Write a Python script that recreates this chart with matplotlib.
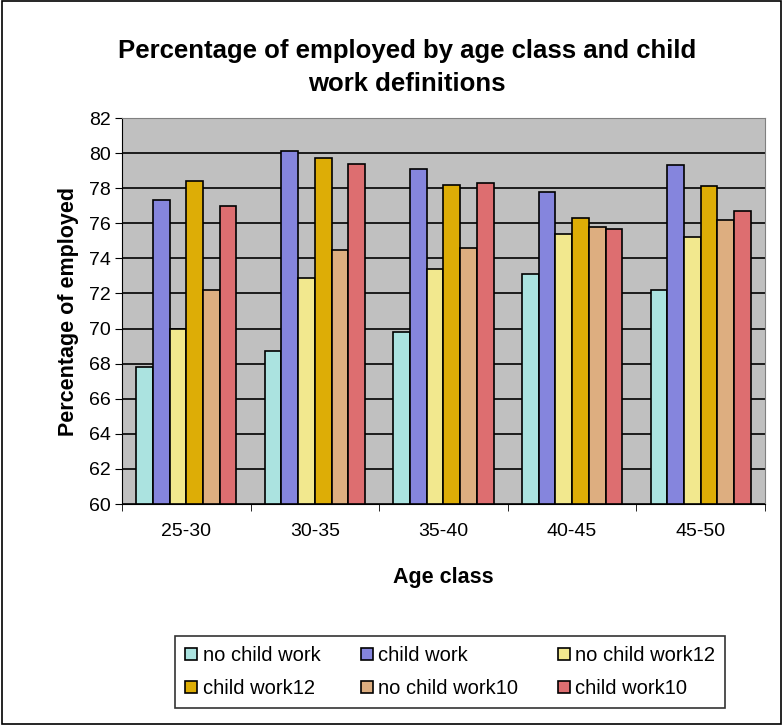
import numpy as np
import matplotlib.pyplot as plt
from matplotlib.patches import Rectangle

plt.rcParams['font.family'] = ['Liberation Sans', 'DejaVu Sans']

# data
age_classes = ['25-30', '30-35', '35-40', '40-45', '45-50']
series_names = ['no child work', 'child work', 'no child work12',
                'child work12', 'no child work10', 'child work10']
no_child_work = [67.8, 68.7, 69.8, 73.1, 72.2]
child_work = [77.3, 80.1, 79.1, 77.8, 79.3]
no_child_work12 = [70.0, 72.9, 73.4, 75.4, 75.2]
child_work12 = [78.4, 79.7, 78.2, 76.3, 78.1]
no_child_work10 = [72.2, 74.5, 74.6, 75.8, 76.2]
child_work10 = [77.0, 79.4, 78.3, 75.7, 76.7]
series = [no_child_work, child_work, no_child_work12,
          child_work12, no_child_work10, child_work10]
colors = ['#ABE3E0', '#8585DD', '#F2E88E', '#DDAD06', '#DDAE80', '#DD6E70']

fig = plt.figure(figsize=(7.83, 7.25), dpi=100)
ax = fig.add_axes([0.1558, 0.3048, 0.8212, 0.5324])
ax.set_facecolor('#C0C0C0')

x = np.arange(len(age_classes))
w = 0.13
bars = []
for i, (vals, c) in enumerate(zip(series, colors)):
    b = ax.bar(x + (i - 2.5) * w, np.array(vals) - 60, bottom=60, width=w,
               color=c, edgecolor='black', linewidth=1.2, zorder=3)
    bars.append(b)

ax.set_ylim(60, 82)
ax.set_xlim(-0.5, len(age_classes) - 0.5)
ax.set_yticks(range(60, 83, 2))
ax.yaxis.grid(True, color='black', linewidth=1.2, zorder=1)
ax.set_xticks(x)
ax.set_xticklabels(age_classes)
ax.set_xticks(np.arange(-0.5, len(age_classes)), minor=True)
ax.tick_params(axis='x', which='major', length=0, pad=14, labelsize=14)
ax.tick_params(axis='x', which='minor', length=5, color='black')
ax.tick_params(axis='y', length=5, labelsize=14, pad=3)
for side in ['top', 'right']:
    ax.spines[side].set_color('#808080')
for side in ['left', 'bottom']:
    ax.spines[side].set_color('black')

ax.set_xlabel('Age class', fontsize=15.5, fontweight='bold', labelpad=19)
ax.set_ylabel('Percentage of employed', fontsize=15.5, fontweight='bold', labelpad=7)
fig.text(0.52, 0.907, 'Percentage of employed by age class and child\nwork definitions',
         ha='center', va='center', fontsize=18.5, fontweight='bold', linespacing=1.45)

# legend filled row by row like the original
order = [0, 3, 1, 4, 2, 5]
leg = fig.legend([bars[i] for i in order], [series_names[i] for i in order],
                 ncol=3, loc='center', bbox_to_anchor=(0.575, 0.073),
                 fontsize=14.5, frameon=True, fancybox=False, edgecolor='black',
                 handlelength=0.6, handleheight=0.6, handletextpad=0.25,
                 columnspacing=2.0, borderpad=0.5, labelspacing=0.7)
leg.get_frame().set_linewidth(1.2)

# outer border of the chart
fig.patches.append(Rectangle((0.002, 0.002), 0.996, 0.996, transform=fig.transFigure,
                             fill=False, edgecolor='black', linewidth=1.2))

plt.savefig('out.png')
